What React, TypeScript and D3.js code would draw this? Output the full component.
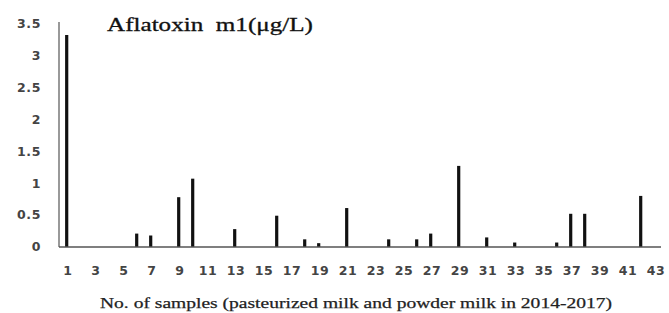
import React from 'react';
import * as d3 from 'd3';

// samples 1..43, aflatoxin m1 (µg/L)
const samples = d3.range(1, 44);
const values = [
  3.32, 0, 0, 0, 0, 0.21, 0.18, 0, 0.78, 1.07,
  0, 0, 0.28, 0, 0, 0.49, 0, 0.12, 0.06, 0,
  0.61, 0, 0, 0.12, 0, 0.12, 0.21, 0, 1.27, 0,
  0.15, 0, 0.07, 0, 0, 0.07, 0.52, 0.52, 0, 0,
  0, 0.8, 0,
];
const yTicks = [0, 0.5, 1, 1.5, 2, 2.5, 3, 3.5];
const xTickLabels = samples.filter(d => d % 2 === 1);

const App = () => {
  const width = 669;
  const height = 313;
  const margin = { top: 23.5, right: 8, bottom: 66, left: 59 };

  const xScale = d3
    .scaleBand<number>()
    .domain(samples)
    .range([margin.left, width - margin.right]);

  const yScale = d3
    .scaleLinear()
    .domain([0, 3.5])
    .range([height - margin.bottom, margin.top]);

  const barW = 3.2;
  const y0 = yScale(0);

  const tickFont = {
    fontFamily: 'DejaVu Sans, sans-serif',
    fontSize: 12.5,
    fontWeight: 'bold' as const,
    letterSpacing: 0.6,
    fill: '#444',
  };

  return (
    <svg
      width={width}
      height={height}
      viewBox={`0 0 ${width} ${height}`}
      style={{ position: 'absolute', left: 0, top: 0, background: '#fff' }}
    >
      <text
        x={107}
        y={31}
        fontFamily="Liberation Serif, serif"
        fontSize={18.5}
        fill="#111"
        stroke="#111"
        strokeWidth={0.3}
        textLength={206}
        lengthAdjust="spacingAndGlyphs"
        style={{ whiteSpace: 'pre' }}
      >
        {'Aflatoxin  m1(μg/L)'}
      </text>

      {values.map((v, i) => {
        const cx = xScale(samples[i])! + xScale.bandwidth() / 2 + 0.7;
        return v > 0 ? (
          <rect
            key={`bar-${i}`}
            x={cx - barW / 2}
            y={yScale(v)}
            width={barW}
            height={y0 - yScale(v)}
            fill="#111"
          />
        ) : null;
      })}

      <line x1={margin.left} x2={margin.left} y1={22} y2={y0} stroke="#555" strokeWidth={1.2} />
      <line x1={margin.left} x2={width - margin.right} y1={y0} y2={y0} stroke="#555" strokeWidth={1.6} />

      {yTicks.map(t => (
        <text key={`y-${t}`} x={41} y={yScale(t)} dy="0.35em" textAnchor="end" {...tickFont}>
          {t}
        </text>
      ))}

      {xTickLabels.map(d => (
        <text
          key={`x-${d}`}
          x={xScale(d)! + xScale.bandwidth() / 2 + 2}
          y={271}
          dy="0.35em"
          textAnchor="middle"
          {...tickFont}
        >
          {d}
        </text>
      ))}

      <text
        x={100}
        y={308}
        fontFamily="Liberation Serif, serif"
        fontSize={15.5}
        fill="#222"
        stroke="#222"
        strokeWidth={0.25}
        textLength={512}
        lengthAdjust="spacingAndGlyphs"
      >
        No. of samples (pasteurized milk and powder milk in 2014-2017)
      </text>
    </svg>
  );
};

export default App;
